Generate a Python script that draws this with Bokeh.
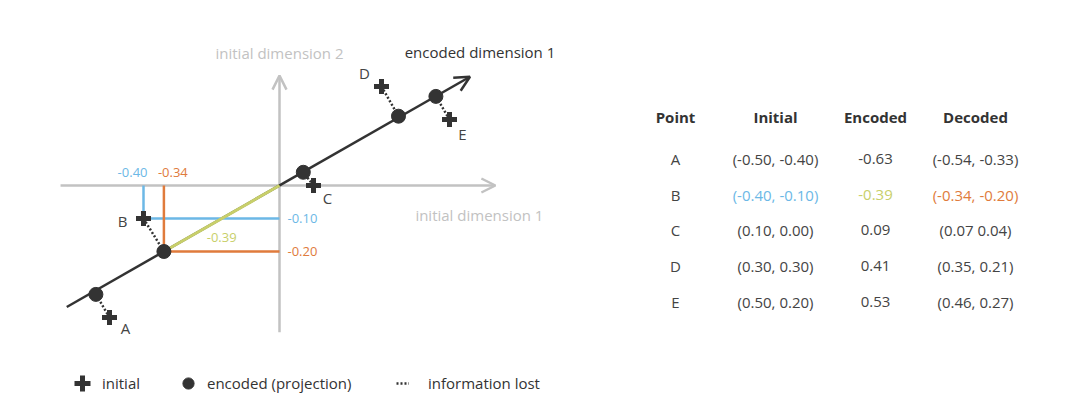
from bokeh.plotting import figure
from bokeh.models import (ColumnDataSource, Arrow, OpenHead, Legend, LegendItem,
                          FactorRange, Range1d)
from bokeh.layouts import row
from bokeh.embed import file_html
from bokeh.resources import INLINE
from bokeh.core.properties import value

# ---------------- data ----------------
points = ["A", "B", "C", "D", "E"]
initial_x = [-0.50, -0.40, 0.10, 0.30, 0.50]
initial_y = [-0.40, -0.10, 0.00, 0.30, 0.20]
encoded = [-0.63, -0.39, 0.09, 0.41, 0.53]
decoded_x = [-0.54, -0.34, 0.07, 0.35, 0.46]
decoded_y = [-0.33, -0.20, 0.04, 0.21, 0.27]

headers = ["Point", "Initial", "Encoded", "Decoded"]
initial_labels = ["(-0.50, -0.40)", "(-0.40, -0.10)", "(0.10, 0.00)", "(0.30, 0.30)", "(0.50, 0.20)"]
encoded_labels = ["-0.63", "-0.39", "0.09", "0.41", "0.53"]
decoded_labels = ["(-0.54, -0.33)", "(-0.34, -0.20)", "(0.07 0.04)", "(0.35, 0.21)", "(0.46, 0.27)"]
legend_labels = ["initial", "encoded (projection)", "information lost"]

# extents of the drawn axes (data units)
axis_x_extent = (-0.644, 0.635)
axis_y_extent = (-0.445, 0.333)
encoded_extent = (-0.726, 0.650)
highlight = "B"

FONT = "Open Sans"
DARK = "#333333"
TEXT = "#444444"
GRAY = "#c2c2c2"
BLUE = "#6cb8e6"
ORANGE = "#e07b3c"
YELLOW = "#c8cf6a"

hi = points.index(highlight)
bx, by = initial_x[hi], initial_y[hi]
cx, cy = decoded_x[hi], decoded_y[hi]

# direction of encoded dimension, derived from the highlighted point
nrm = (cx ** 2 + cy ** 2) ** 0.5
sgn = 1 if encoded[hi] > 0 else -1
ux, uy = sgn * cx / nrm, sgn * cy / nrm

# ---------------- diagram ----------------
p1 = figure(width=570, height=418, x_range=Range1d(-0.8206, 0.8559), y_range=Range1d(-0.7061, 0.5606),
            x_axis_location=None, y_axis_location=None, toolbar_location=None,
            output_backend="svg", min_border=0)
p1.grid.visible = False
p1.outline_line_color = None

# gray axes with arrow heads
p1.add_layout(Arrow(x_start=axis_x_extent[0], y_start=0, x_end=axis_x_extent[1], y_end=0,
                    line_color=GRAY, line_width=2.5, level="underlay",
                    end=OpenHead(size=14, line_color=GRAY, line_width=2.5)))
p1.add_layout(Arrow(x_start=0, y_start=axis_y_extent[0], x_end=0, y_end=axis_y_extent[1],
                    line_color=GRAY, line_width=2.5, level="underlay",
                    end=OpenHead(size=14, line_color=GRAY, line_width=2.5)))

# encoded dimension line
p1.add_layout(Arrow(x_start=encoded_extent[0] * ux, y_start=encoded_extent[0] * uy,
                    x_end=encoded_extent[1] * ux, y_end=encoded_extent[1] * uy,
                    line_color=DARK, line_width=2.5, level="underlay",
                    end=OpenHead(size=15, line_color=DARK, line_width=2.5)))

# blue guides (initial coordinates of B)
p1.line(x=[bx, bx, 0], y=[0, by, by], line_color=BLUE, line_width=2.5)
# orange guides (decoded coordinates of B)
p1.line(x=[cx, cx, 0], y=[0, cy, cy], line_color=ORANGE, line_width=2.5)
# encoded value of B (yellow)
p1.line(x=[0, cx], y=[0, cy], line_color=YELLOW, line_width=3)

src = ColumnDataSource(dict(ix=initial_x, iy=initial_y, dx=decoded_x, dy=decoded_y, name=points,
                            lx=[16, -21, 14, -17, 13], ly=[11, 3, 13, -13, 15]))
lost = p1.segment(x0="ix", y0="iy", x1="dx", y1="dy", source=src, line_color=DARK,
                  line_width=2.5, line_dash="2 2")
crosses = p1.scatter(x="ix", y="iy", source=src, marker="cross", size=15, line_width=5,
                     line_color=DARK)
circles = p1.scatter(x="dx", y="dy", source=src, marker="circle", size=14, fill_color=DARK,
                     line_color=DARK)
p1.text(x="ix", y="iy", text="name", source=src, x_offset="lx", y_offset="ly",
        text_align="center", text_baseline="middle", text_color=TEXT,
        text_font=value(FONT), text_font_size="15px")

# value labels for B
lab = dict(text_baseline="middle", text_font=value(FONT), text_font_size="13px")
p1.text(x=[bx], y=[0], text=[f"{bx:.2f}"], x_offset=4, y_offset=-13, text_align="right",
        text_color=BLUE, **lab)
p1.text(x=[cx], y=[0], text=[f"{cx:.2f}"], x_offset=-6, y_offset=-13, text_align="left",
        text_color=ORANGE, **lab)
p1.text(x=[0], y=[by], text=[f"{by:.2f}"], x_offset=8, text_align="left",
        text_color=BLUE, **lab)
p1.text(x=[0], y=[cy], text=[f"{cy:.2f}"], x_offset=8, text_align="left",
        text_color=ORANGE, **lab)
p1.text(x=[cx / 2], y=[cy / 2], text=[encoded_labels[hi]], y_offset=19, text_align="center",
        text_color=YELLOW, **lab)

# axis titles
ttl = dict(text_align="center", text_baseline="middle", text_font=value(FONT), text_font_size="15px")
p1.text(x=[0], y=[axis_y_extent[1]], text=["initial dimension 2"], y_offset=-23,
        text_color=GRAY, **ttl)
p1.text(x=[axis_x_extent[1]], y=[0], text=["initial dimension 1"], x_offset=-16, y_offset=30,
        text_color=GRAY, **ttl)
p1.text(x=[encoded_extent[1] * ux], y=[encoded_extent[1] * uy], text=["encoded dimension 1"],
        x_offset=10, y_offset=-25, text_color=DARK, **ttl)

# legend: one small legend per entry (renderer, location, glyph width, glyph height, standoff)
leg_specs = [(crosses, (62, 15), 40, 40, -4), (circles, (174, 21), 28, 28, 5),
             (lost, (396, 18), 13, 34, 19)]
for (rend, loc, gw, gh, stand), lbl in zip(leg_specs, legend_labels):
    p1.add_layout(Legend(items=[LegendItem(label=lbl, renderers=[rend])],
                         location=loc, padding=0, margin=0, spacing=0,
                         label_standoff=stand, glyph_width=gw, glyph_height=gh,
                         label_text_font=FONT, label_text_font_size="15px",
                         label_text_color=DARK, label_text_baseline="middle",
                         background_fill_alpha=0, border_line_alpha=0))

# ---------------- table ----------------
y_factors = list(reversed(points)) + ["header"]
p2 = figure(width=510, height=418,
            x_range=FactorRange(factors=headers, range_padding=0.55, range_padding_units="absolute"),
            y_range=FactorRange(factors=y_factors, range_padding=2.8056, range_padding_units="absolute"),
            x_axis_location=None, y_axis_location=None, toolbar_location=None,
            output_backend="svg", min_border=0)
p2.grid.visible = False
p2.outline_line_color = None

p2.text(x=headers, y=["header"] * len(headers), text=headers, y_offset=-3,
        text_align="center", text_baseline="middle", text_color=DARK,
        text_font=value(FONT), text_font_size="15px", text_font_style="bold")

tx, ty, tt, tc = [], [], [], []
for i, pnt in enumerate(points):
    cells = [pnt, initial_labels[i], encoded_labels[i], decoded_labels[i]]
    colors = [TEXT, TEXT, TEXT, TEXT]
    if pnt == highlight:
        colors = [TEXT, BLUE, YELLOW, ORANGE]
    for h, c, col in zip(headers, cells, colors):
        tx.append(h); ty.append(pnt); tt.append(c); tc.append(col)
tsrc = ColumnDataSource(dict(x=tx, y=ty, text=tt, color=tc))
p2.text(x="x", y="y", text="text", text_color="color", source=tsrc, y_offset=3,
        text_align="center", text_baseline="middle",
        text_font=value(FONT), text_font_size="15px")

layout = row(p1, p2)
open("out.html", "w").write(file_html(layout, INLINE))
